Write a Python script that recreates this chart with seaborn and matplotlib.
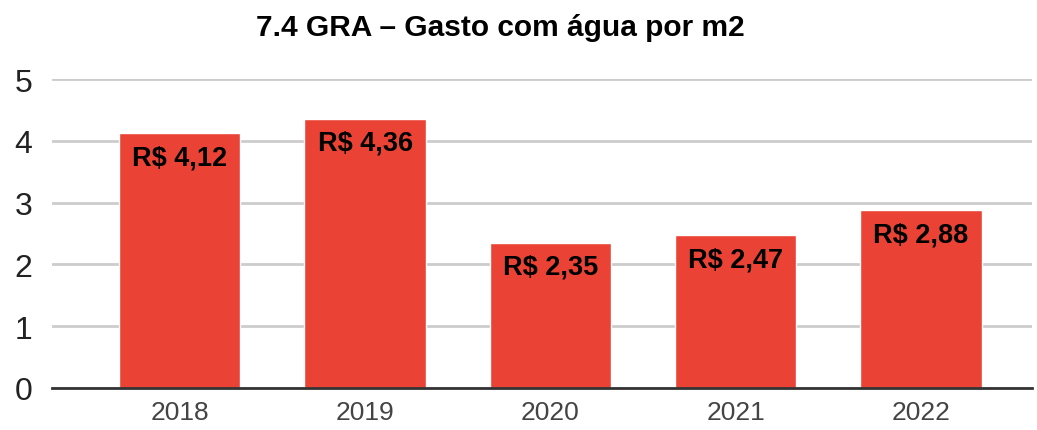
import matplotlib
matplotlib.use("Agg")
import matplotlib.pyplot as plt
import seaborn as sns
import pandas as pd

years = ["2018", "2019", "2020", "2021", "2022"]
values = [4.12, 4.36, 2.35, 2.47, 2.88]
labels = ["R$ 4,12", "R$ 4,36", "R$ 2,35", "R$ 2,47", "R$ 2,88"]
yticks = [0, 1, 2, 3, 4, 5]
title = "7.4 GRA – Gasto com água por m2"

sns.set_theme(style="white")
plt.rcParams["font.family"] = ["Liberation Sans", "DejaVu Sans"]

df = pd.DataFrame({"ano": years, "valor": values})

W, H = 1037, 431
fig = plt.figure(figsize=(W / 100, H / 100), dpi=100)
ax = fig.add_axes([52 / W, 1 - 389 / H, (1032 - 52) / W, (389 - 80) / H])

sns.barplot(data=df, x="ano", y="valor", color="#EA4335", saturation=1,
            width=0.655, ax=ax, zorder=3)

ax.set_xlim(-0.69, 4.6)
ax.set_ylim(0, 5)
ax.set_yticks(yticks)
ax.set_yticklabels([str(t) for t in yticks])
ax.yaxis.grid(True, color="#CCCCCC", linewidth=2, zorder=0)
ax.set_axisbelow(True)
for s in ["left", "right", "top"]:
    ax.spines[s].set_visible(False)
ax.spines["bottom"].set_color("#333333")
ax.spines["bottom"].set_linewidth(2)
ax.spines["bottom"].set_zorder(5)
ax.tick_params(axis="y", length=0, pad=14, labelsize=23, labelcolor="#222222")
ax.tick_params(axis="x", length=0, pad=9, labelsize=19, labelcolor="#444444")
ax.set_xlabel("")
ax.set_ylabel("")

for i, (v, lab) in enumerate(zip(values, labels)):
    ax.annotate(lab, xy=(i, v), xytext=(0, -8), textcoords="offset points",
                ha="center", va="top", fontsize=19.5, fontweight="bold",
                color="#000000", zorder=6)

fig.text(500 / W, 1 - 28 / H, title, ha="center", va="center",
         fontsize=21.5, fontweight="bold", color="#000000")

fig.savefig("out.png", dpi=100)
